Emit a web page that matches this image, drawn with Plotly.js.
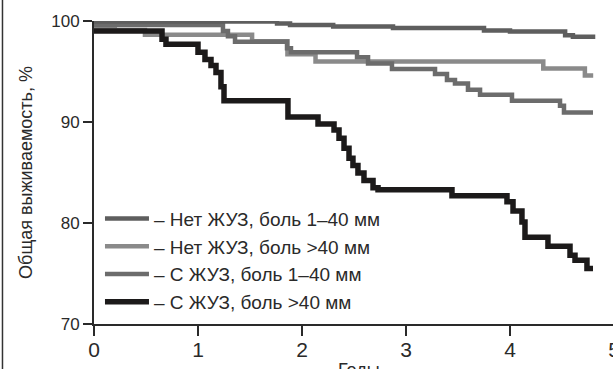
<!DOCTYPE html>
<html>
<head>
<meta charset="utf-8">
<script src="https://cdn.plot.ly/plotly-3.0.1.min.js"></script>
<style>
html, body { margin: 0; padding: 0; overflow: hidden; background: #fff; }
#chart { width: 640px; height: 369px; }
</style>
</head>
<body>
<div id="chart"></div>
<script>
// Series names (legend)
const seriesNames = [
  '– Нет ЖУЗ, боль 1–40 мм',
  '– Нет ЖУЗ, боль >40 мм',
  '– С ЖУЗ, боль 1–40 мм',
  '– С ЖУЗ, боль >40 мм'
];

// Нет ЖУЗ, боль 1–40 мм
const years1 = [0, 1.76, 1.885, 2.30, 2.875, 3.75, 4.0, 4.53, 4.605, 4.82];
const surv1  = [99.95, 99.75, 99.6, 99.45, 99.3, 99.05, 98.95, 98.6, 98.45, 98.45];

// Нет ЖУЗ, боль >40 мм
const years2 = [0, 0.2, 0.49, 1.52, 1.86, 2.13, 4.32, 4.72, 4.80];
const surv2  = [99.4, 99.1, 98.65, 98.0, 96.7, 96.0, 95.3, 94.6, 94.6];

// С ЖУЗ, боль 1–40 мм
const years3 = [0, 1.24, 1.288, 1.356, 1.856, 1.894, 2.529, 2.635, 2.865, 3.279, 3.394, 3.471, 3.596, 3.712, 4.019, 4.481, 4.519, 4.798];
const surv3  = [99.6, 99.0, 98.5, 97.95, 97.3, 96.9, 96.4, 95.8, 95.25, 94.75, 94.15, 93.8, 93.2, 92.7, 92.1, 91.6, 90.95, 90.95];

// С ЖУЗ, боль >40 мм
const years4 = [0, 0.654, 0.692, 1.0, 1.067, 1.125, 1.173, 1.221, 1.25, 1.865, 2.154, 2.308, 2.356, 2.404, 2.452, 2.49, 2.538, 2.596, 2.683, 2.731, 3.442, 3.971, 4.029, 4.115, 4.144, 4.365, 4.577, 4.625, 4.74, 4.798];
const surv4  = [99.0, 98.2, 97.7, 96.9, 96.2, 95.6, 94.9, 93.5, 92.1, 90.5, 89.8, 89.2, 88.4, 87.4, 86.4, 85.7, 84.95, 84.2, 83.5, 83.3, 82.7, 82.1, 81.2, 80.1, 78.6, 77.7, 76.8, 76.3, 75.5, 75.5];

// Axis ticks and titles
const xTicks = [0, 1, 2, 3, 4, 5];
const yTicks = [70, 80, 90, 100];
const xTitle = 'Годы';
const yTitle = 'Общая выживаемость, %';

const colors = ['#5e5e5e', '#8a8a8a', '#6c6c6c', '#1c1a1a'];
const widths = [4.5, 4.5, 4.5, 5.5];

const series = [
  {x: years2, y: surv2, i: 1},
  {x: years3, y: surv3, i: 2},
  {x: years1, y: surv1, i: 0},
  {x: years4, y: surv4, i: 3}
];

const traces = series.map(s => ({
  type: 'scatter',
  mode: 'lines',
  x: s.x,
  y: s.y,
  name: seriesNames[s.i],
  legendgroup: 'g' + s.i,
  legendrank: s.i + 1,
  line: {shape: 'hv', color: colors[s.i], width: widths[s.i]}
}));

const fontFam = 'Liberation Sans, Arial, Helvetica, sans-serif';

const layout = {
  width: 640,
  height: 369,
  margin: {l: 94, r: 26, t: 21, b: 45},
  paper_bgcolor: '#ffffff',
  plot_bgcolor: '#ffffff',
  font: {family: fontFam, color: '#2a2a2a', size: 17},
  showlegend: true,
  legend: {
    x: 0.0115, y: 0.41, xanchor: 'left', yanchor: 'top',
    bgcolor: 'rgba(0,0,0,0)', borderwidth: 0,
    font: {family: fontFam, size: 19, color: '#2a2a2a'},
    itemwidth: 44,
    tracegroupgap: 0,
    traceorder: 'grouped'
  },
  xaxis: {
    range: [0, 5],
    tickvals: xTicks,
    ticktext: xTicks.map(String),
    showgrid: false, zeroline: false,
    showline: true, linecolor: '#2a2a2a', linewidth: 2,
    ticks: 'outside', ticklen: 10, tickwidth: 2, tickcolor: '#2a2a2a',
    tickfont: {size: 21, family: fontFam, color: '#2a2a2a'},
    ticklabelstandoff: -4,
    fixedrange: true
  },
  yaxis: {
    range: [70, 100],
    tickvals: yTicks,
    ticktext: yTicks.map(String),
    showgrid: false, zeroline: false,
    showline: true, linecolor: '#2a2a2a', linewidth: 2,
    ticks: 'outside', ticklen: 9, tickwidth: 2, tickcolor: '#2a2a2a',
    tickfont: {size: 17, family: fontFam, color: '#2a2a2a'},
    title: {text: yTitle, font: {size: 18, family: fontFam, color: '#2a2a2a'}, standoff: 14},
    fixedrange: true
  },
  annotations: [{
    text: xTitle, xref: 'paper', yref: 'paper', x: 0.51, y: -0.111,
    xanchor: 'center', yanchor: 'top', showarrow: false,
    font: {size: 18, family: fontFam, color: '#2a2a2a'}
  }],
  shapes: [{
    type: 'line', xref: 'paper', yref: 'paper',
    x0: -0.176, x1: -0.176, y0: -0.16, y1: 1.08,
    line: {color: '#333333', width: 1.5}
  }]
};

Plotly.newPlot('chart', traces, layout, {displayModeBar: false, staticPlot: true});
</script>
</body>
</html>
